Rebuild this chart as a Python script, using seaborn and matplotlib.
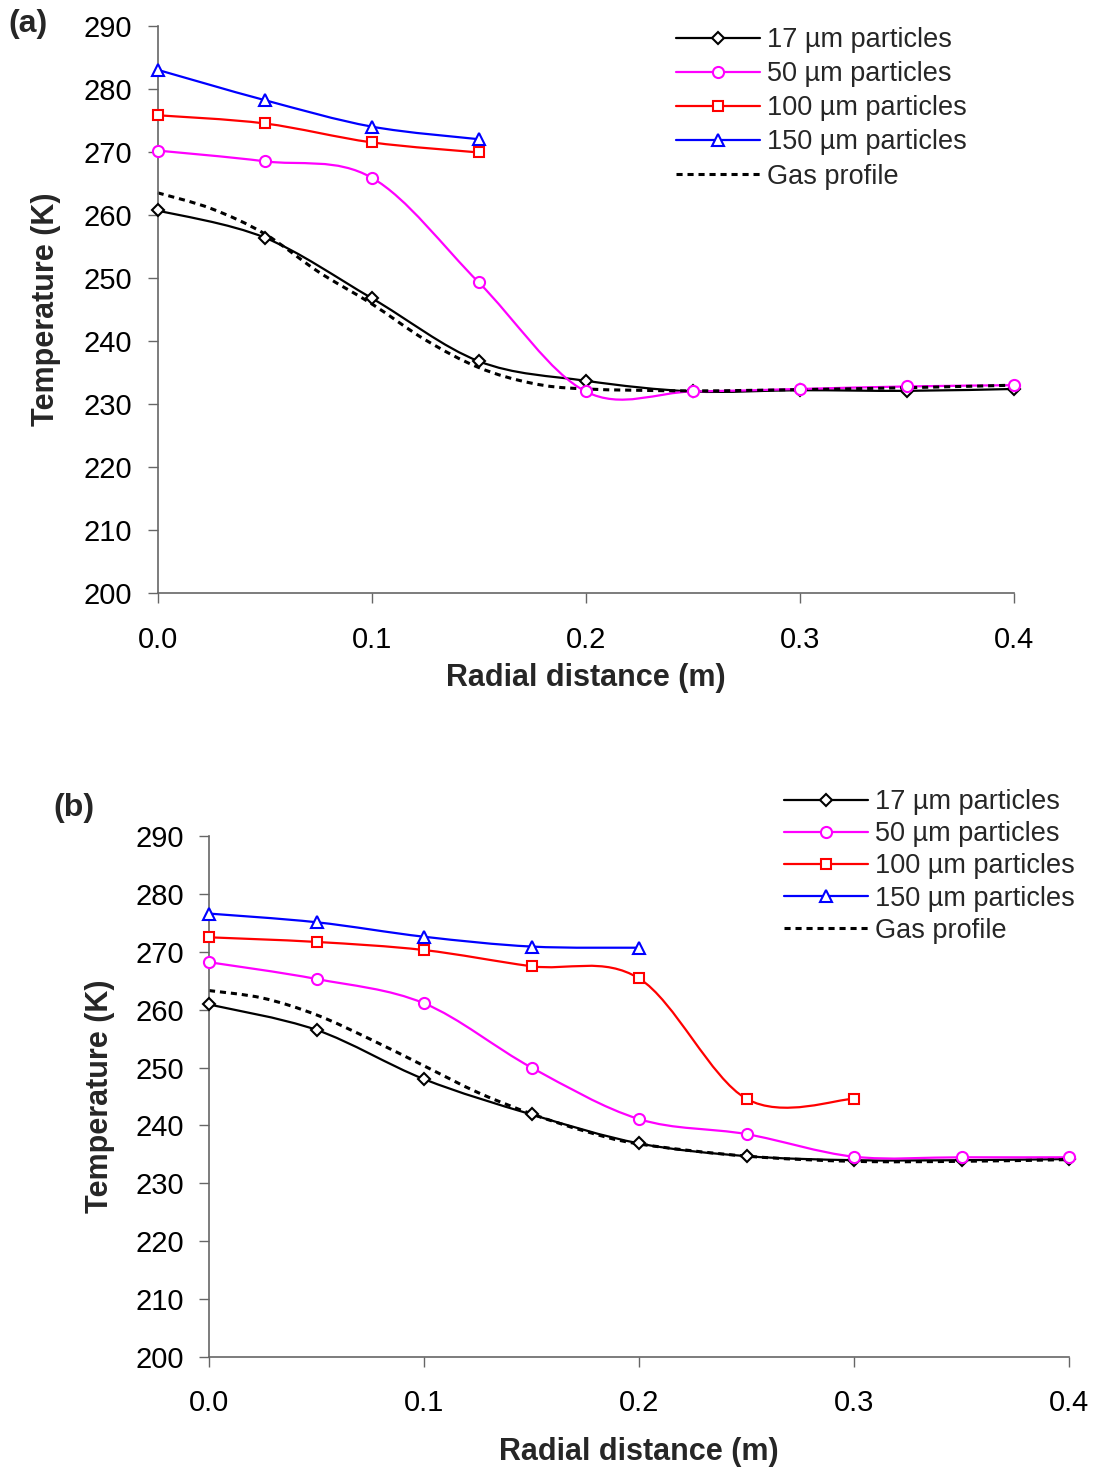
import numpy as np
import matplotlib
matplotlib.use("Agg")
import matplotlib.pyplot as plt
import seaborn as sns
from matplotlib.path import Path
from matplotlib.patches import PathPatch
from matplotlib.lines import Line2D

# ---- data -------------------------------------------------------------
radial = [0.0, 0.05, 0.10, 0.15, 0.20, 0.25, 0.30, 0.35, 0.40]

# panel (a)
a_17um = [260.7, 256.4, 246.8, 236.8, 233.7, 232.0, 232.2, 232.1, 232.4]
a_50um = [270.2, 268.5, 265.9, 249.3, 232.0, 232.0, 232.4, 232.8, 233.0]
a_100um = [275.8, 274.5, 271.5, 269.9]
a_150um = [283.0, 278.2, 274.0, 272.0]
a_gas_r = [0.0, 0.025, 0.05, 0.075, 0.10, 0.125, 0.15, 0.175, 0.20, 0.25, 0.30, 0.35, 0.40]
a_gas = [263.5, 261.0, 257.0, 251.0, 245.9, 240.2, 235.8, 233.3, 232.4, 232.1, 232.3, 232.6, 233.0]

# panel (b)
b_17um = [260.9, 256.5, 248.0, 241.9, 236.9, 234.7, 234.0, 234.0, 234.2]
b_50um = [268.2, 265.3, 261.1, 250.0, 241.1, 238.5, 234.6, 234.5, 234.5]
b_100um = [272.5, 271.7, 270.3, 267.5, 265.4, 244.6, 244.6]
b_150um = [276.6, 275.1, 272.6, 270.9, 270.7]
b_gas_r = [0.0, 0.025, 0.05, 0.075, 0.10, 0.125, 0.15, 0.175, 0.20, 0.25, 0.30, 0.35, 0.40]
b_gas = [263.3, 262.0, 259.1, 254.9, 250.3, 245.7, 242.0, 239.0, 236.8, 234.7, 233.8, 233.8, 234.1]

labels = ["17 µm particles", "50 µm particles", "100 µm particles",
          "150 µm particles", "Gas profile"]
colors = ["#000000", "#FF00FF", "#FF0000", "#0000FF"]
markers = ["D", "o", "s", "^"]
msizes = [6.5, 8.0, 7.8, 8.6]
y_ticks = list(range(200, 291, 10))
x_ticks = [0.0, 0.1, 0.2, 0.3, 0.4]

# ---- style ------------------------------------------------------------
sns.set_theme(style="ticks")
plt.rcParams["font.family"] = ["Liberation Sans", "DejaVu Sans"]
AXCOL = "#666666"
LW = 1.6
GAS_DASH = (0, (2.0, 1.6))
LABEL_FS = 22
LEGEND_FS = 19.5


def smooth_path(xs, ys):
    """Cubic Bezier path through the points (Catmull-Rom style handles)."""
    pts = np.column_stack([xs, ys]).astype(float)
    n = len(pts)
    verts = [pts[0]]
    codes = [Path.MOVETO]
    for i in range(n - 1):
        p_prev = pts[i - 1] if i > 0 else pts[i]
        p0, p1 = pts[i], pts[i + 1]
        p_next = pts[i + 2] if i + 2 < n else pts[i + 1]
        c1 = p0 + (p1 - p_prev) / 6.0
        c2 = p1 - (p_next - p0) / 6.0
        verts += [c1, c2, p1]
        codes += [Path.CURVE4] * 3
    return Path(verts, codes)


def draw_panel(ax, series, gas_r, gas_t):
    for (ys, col, mk, ms) in series:
        xs = radial[:len(ys)]
        ax.add_patch(PathPatch(smooth_path(xs, ys), facecolor="none",
                               edgecolor=col, lw=LW, zorder=2, clip_on=False))
        sns.lineplot(x=xs, y=ys, ax=ax, color=col, marker=mk, markersize=ms,
                     markerfacecolor="white", markeredgecolor=col,
                     markeredgewidth=1.5, linestyle="none", zorder=3,
                     clip_on=False, legend=False, errorbar=None, sort=False)
    ax.add_patch(PathPatch(smooth_path(gas_r, gas_t), facecolor="none",
                           edgecolor="black", lw=2.2, linestyle=GAS_DASH,
                           zorder=2.5, clip_on=False))

    ax.set_xlim(0, 0.4)
    ax.set_ylim(200, 290)
    ax.set_xticks(x_ticks)
    ax.set_xticklabels([f"{v:.1f}" for v in x_ticks])
    ax.set_yticks(y_ticks)
    sns.despine(ax=ax)
    for s in ("left", "bottom"):
        ax.spines[s].set_color(AXCOL)
        ax.spines[s].set_linewidth(1.2)
    ax.tick_params(axis="both", direction="out", length=7.2, width=1.0,
                   color=AXCOL, labelsize=21, labelcolor="black")
    ax.tick_params(axis="x", pad=16)
    ax.tick_params(axis="y", pad=11)
    ax.set_xlabel("Radial distance (m)", fontsize=LABEL_FS, fontweight="bold")
    ax.set_ylabel("Temperature (K)", fontsize=LABEL_FS, fontweight="bold")
    ax.xaxis.label.set_va("center")
    ax.yaxis.label.set_va("center")


def legend_handles():
    hs = []
    for col, mk, ms in zip(colors, markers, msizes):
        hs.append(Line2D([], [], color=col, lw=LW, marker=mk, markersize=ms,
                         markerfacecolor="white", markeredgecolor=col,
                         markeredgewidth=1.5))
    hs.append(Line2D([], [], color="black", lw=2.2, linestyle=GAS_DASH))
    return hs


W, H = 1099, 1472
fig = plt.figure(figsize=(W / 100, H / 100), dpi=100)

# panel (a)
ax_a = fig.add_axes([157.7 / W, 1 - 593.3 / H, 856 / W, 567.6 / H])
draw_panel(ax_a,
           [(a_17um, colors[0], markers[0], msizes[0]),
            (a_50um, colors[1], markers[1], msizes[1]),
            (a_100um, colors[2], markers[2], msizes[2]),
            (a_150um, colors[3], markers[3], msizes[3])],
           a_gas_r, a_gas)
ax_a.xaxis.set_label_coords(0.5, (593.3 - 678) / 567.6)
ax_a.yaxis.set_label_coords((46 - 157.7) / 856, 0.5)
ax_a.legend(legend_handles(), labels, loc="upper left",
            bbox_to_anchor=(676 / W, 1 - 27 / H), bbox_transform=fig.transFigure,
            frameon=False, fontsize=LEGEND_FS, handlelength=3.1,
            handletextpad=0.26, labelspacing=0.30, borderpad=0, borderaxespad=0)
fig.text(8 / W, 1 - 24 / H, "(a)", fontsize=23, fontweight="bold",
         ha="left", va="center")

# panel (b)
ax_b = fig.add_axes([209 / W, 1 - 1357 / H, 860 / W, 521 / H])
draw_panel(ax_b,
           [(b_17um, colors[0], markers[0], msizes[0]),
            (b_50um, colors[1], markers[1], msizes[1]),
            (b_100um, colors[2], markers[2], msizes[2]),
            (b_150um, colors[3], markers[3], msizes[3])],
           b_gas_r, b_gas)
ax_b.xaxis.set_label_coords(0.5, (1357 - 1452) / 521)
ax_b.yaxis.set_label_coords((100 - 209) / 860, 0.5)
ax_b.legend(legend_handles(), labels, loc="upper left",
            bbox_to_anchor=(784 / W, 1 - 789 / H), bbox_transform=fig.transFigure,
            frameon=False, fontsize=LEGEND_FS, handlelength=3.1,
            handletextpad=0.26, labelspacing=0.23, borderpad=0, borderaxespad=0)
fig.text(53 / W, 1 - 808 / H, "(b)", fontsize=23, fontweight="bold",
         ha="left", va="center")

fig.savefig("out.png", dpi=100, facecolor="white")
